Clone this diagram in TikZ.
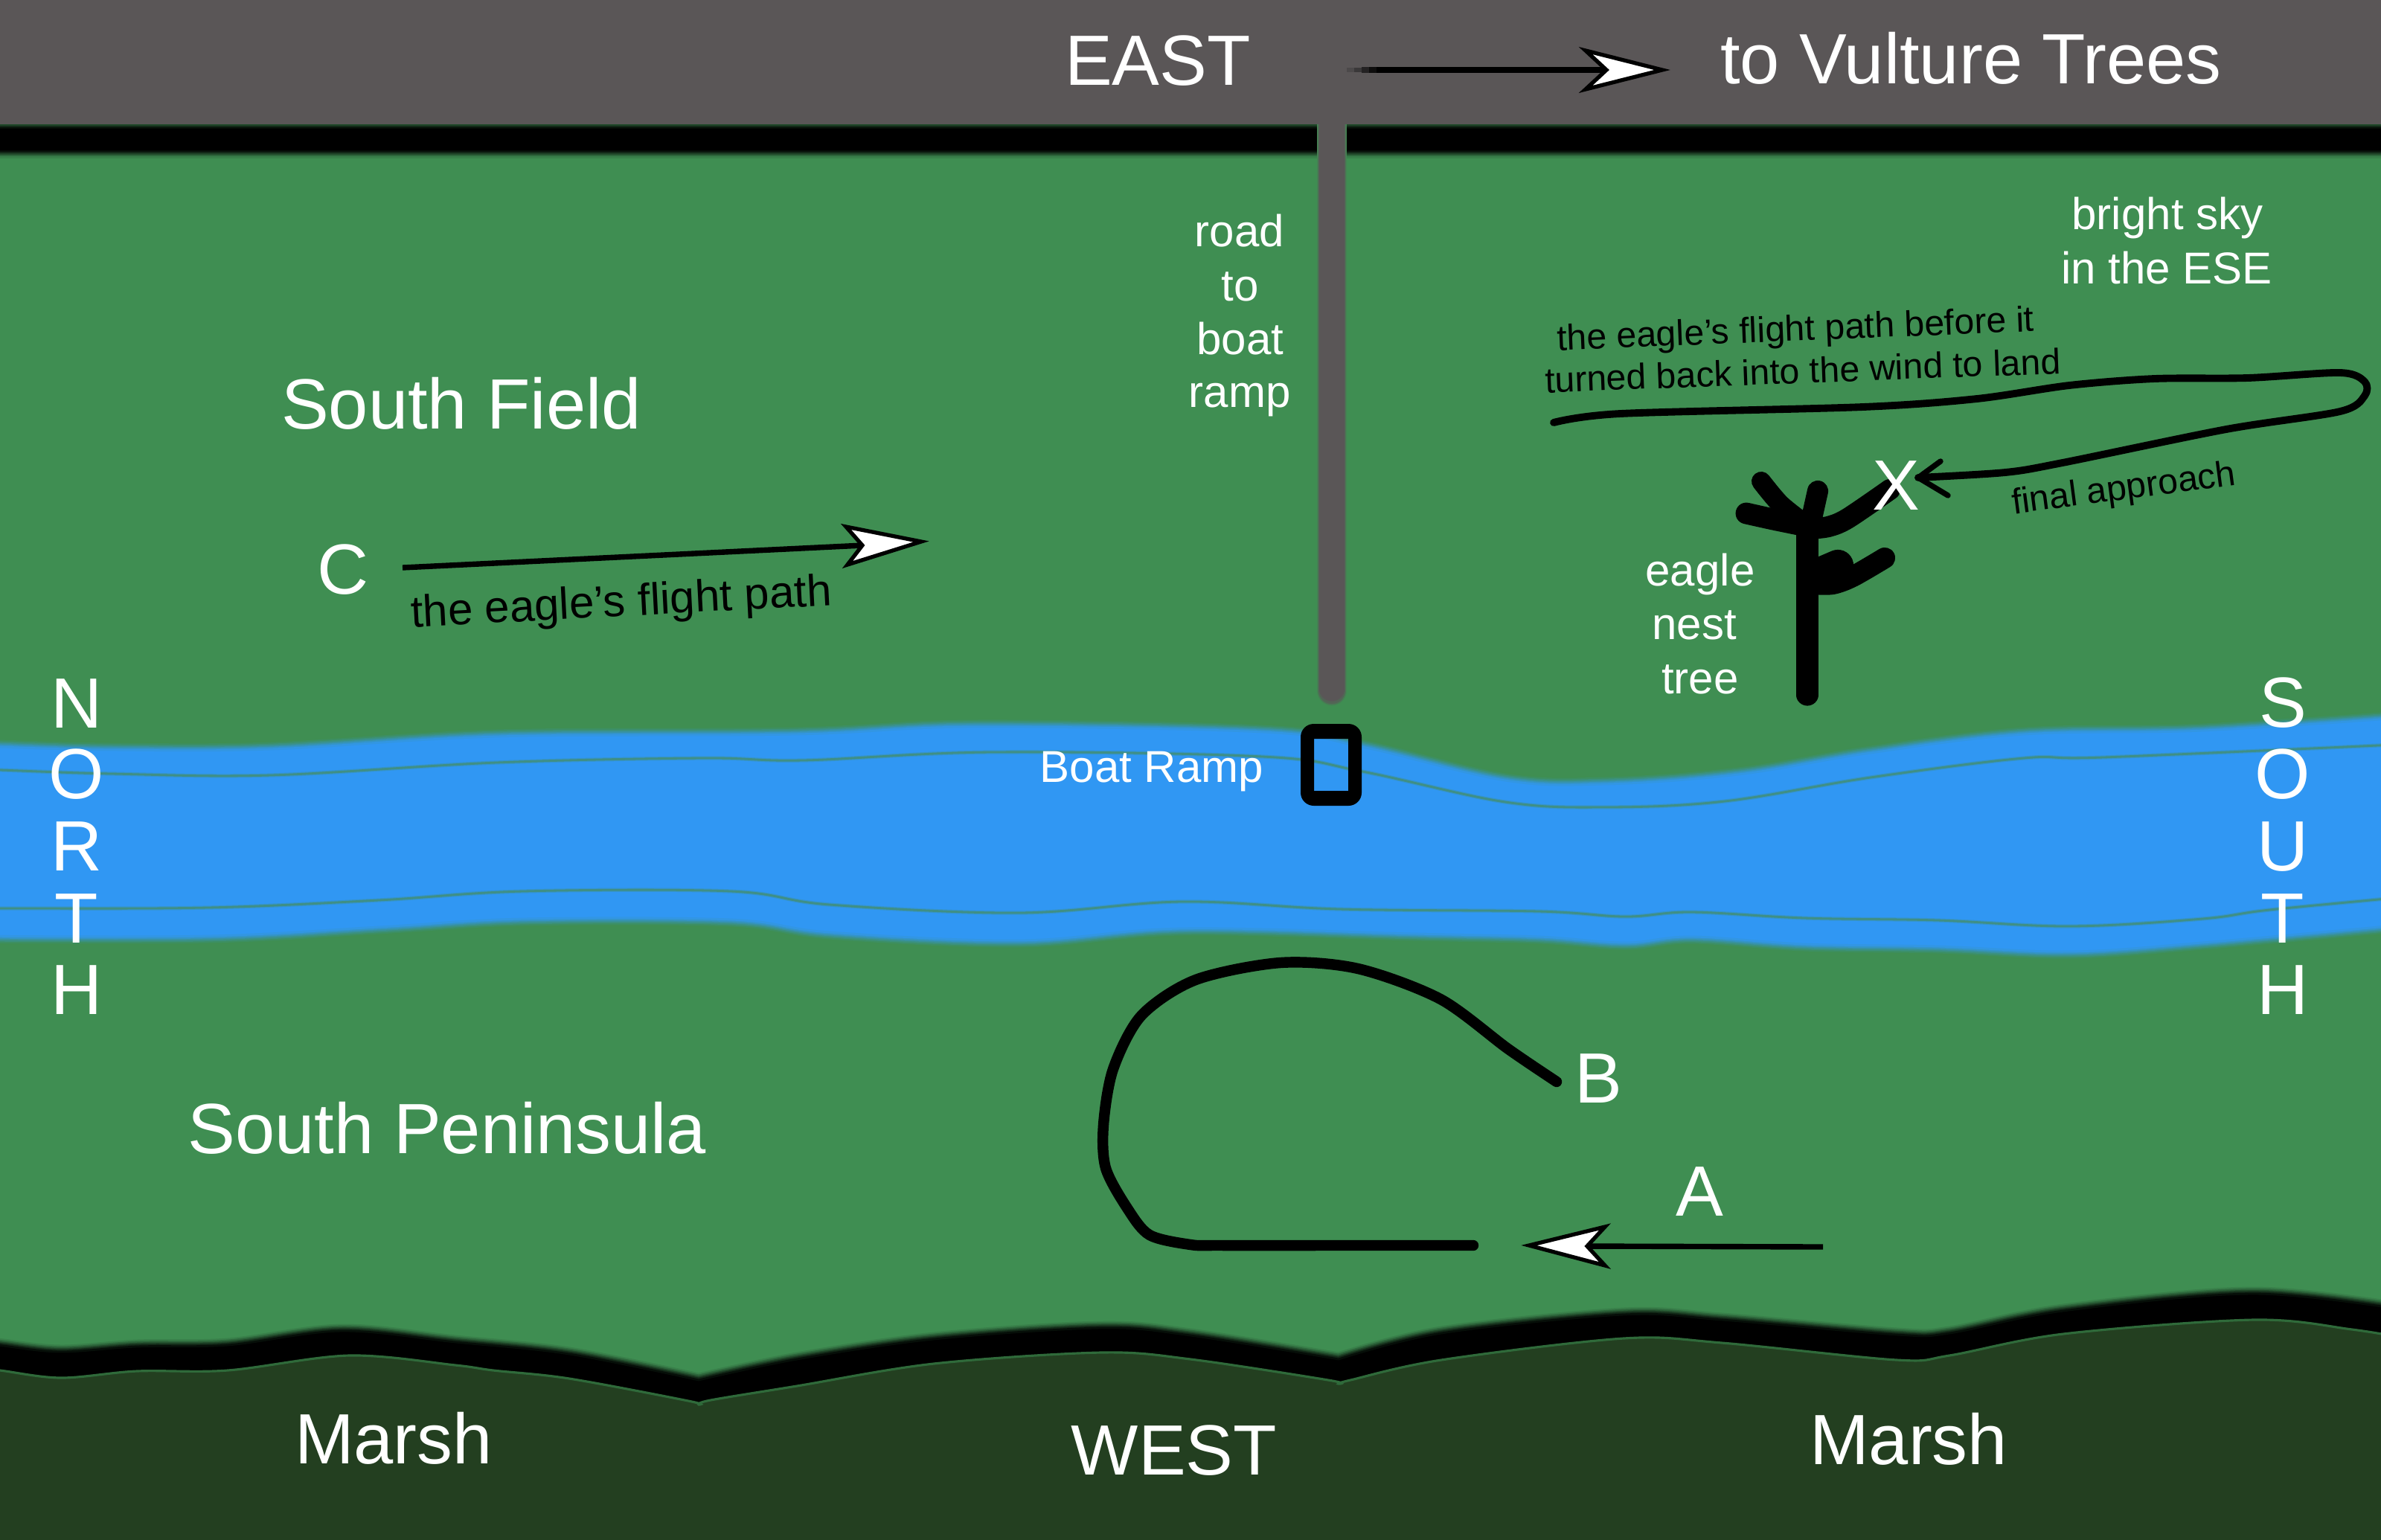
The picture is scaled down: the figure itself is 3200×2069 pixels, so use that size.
\documentclass[tikz,border=0pt]{standalone}
\usepackage{fontspec}
\setmainfont{Liberation Sans}
\definecolor{fieldgreen}{HTML}{3F8E52}
\definecolor{marshgreen}{HTML}{233F20}
\definecolor{riverblue}{HTML}{3097F3}
\definecolor{roofgrey}{HTML}{5A5657}
\definecolor{riverline}{HTML}{3F8F85}
\definecolor{marshline}{HTML}{2F6A3A}
\tikzset{
  lbl/.style={inner sep=0pt,outer sep=0pt,anchor=base,text=white},
  bigtxt/.style={lbl,font=\fontsize{27.2}{27.2}\selectfont},
  midtxt/.style={lbl,font=\fontsize{17.07}{17.07}\selectfont},
  blacktxt/.style={inner sep=0pt,outer sep=0pt,anchor=base west,text=black},
  lgblack/.style={blacktxt,font=\fontsize{17.07}{17.07}\selectfont},
  smblack/.style={blacktxt,font=\fontsize{13.7}{13.7}\selectfont},
  pen/.style={draw=black,line cap=round,line join=round},
  headwhite/.style={draw=black,fill=white,line width=1.5pt,line join=miter},
  shaft/.style={draw=black,line width=2.1pt,line cap=butt},
}
\newcommand{\blurred}[3]{%
  \path[draw=#2!10!#3,line width=5.4pt,line join=round] #1;
  \path[draw=#2!28!#3,line width=4.2pt,line join=round] #1;
  \path[draw=#2!50!#3,line width=3.0pt,line join=round] #1;
  \path[draw=#2!72!#3,line width=1.9pt,line join=round] #1;
  \path[draw=#2!90!#3,fill=#2,line width=.8pt,line join=round] #1;
}
\def\riverouter{plot[smooth,tension=.6] coordinates {(-40,1002)(0,1004)(150,1008)(364,1007)(667,990)(1067,987)(1309,977)(1697,984)(1831,1004)(2023,1049)(2157,1054)(2336,1041)(2514,1012)(2720,987)(2960,982)(3240,964)}
  -- plot[smooth,tension=.6] coordinates {(3240,1242)(2960,1267)(2782,1279)(2604,1272)(2425,1269)(2273,1259)(2184,1267)(2068,1259)(1900,1255)(1588,1248)(1370,1264)(1115,1253)(982,1236)(703,1235)(509,1246)(279,1258)(-40,1258)} -- cycle}
\def\bandouter{plot[smooth,tension=.55] coordinates {(-40,1802)(5,1809)(82,1817)(184,1810)(306,1808)(459,1789)(612,1804)(765,1820)(939,1855)} -- plot[smooth,tension=.55] coordinates {(939,1855)(1071,1827)(1255,1800)(1480,1785)(1600,1795)(1799,1827)} -- plot[smooth,tension=.55] coordinates {(1799,1827)(1937,1792)(2182,1767)(2314,1774)(2549,1794)(2620,1792)(2773,1762)(3029,1739)(3240,1762)} -- (3240,1950) -- (-40,1950) -- cycle}
\def\marshtop{plot[smooth,tension=.55] coordinates {(-40,1838)(0,1842)(82,1852)(184,1843)(306,1842)(469,1822)(612,1835)(663,1842)(765,1853)(925,1883)(939,1888)} -- plot[smooth,tension=.55] coordinates {(939,1888)(955,1882)(1071,1863)(1255,1833)(1480,1818)(1600,1827)(1785,1855)(1799,1860)} -- plot[smooth,tension=.55] coordinates {(1799,1860)(1815,1855)(1937,1828)(2182,1799)(2314,1805)(2549,1828)(2620,1822)(2773,1793)(3029,1774)(3161,1787)(3240,1800)}}
\begin{document}
\begin{tikzpicture}[x=0.01cm,y=-0.01cm]
\useasboundingbox (0,0) rectangle (3200,2069);
\clip (0,0) rectangle (3200,2069);
% ground
\fill[fieldgreen] (0,0) rectangle (3200,2069);
% top black line
\blurred{(-40,172) rectangle (3240,203)}{black}{fieldgreen}
% road
\draw[fieldgreen!82!roofgrey,line width=11.6pt,line cap=round] (1790,150) -- (1790,928);
\draw[fieldgreen!55!roofgrey,line width=11pt,line cap=round] (1790,150) -- (1790,928);
\draw[fieldgreen!25!roofgrey,line width=10.2pt,line cap=round] (1790,150) -- (1790,928);
\draw[roofgrey,line width=9.4pt,line cap=round] (1790,150) -- (1790,926);
% grey top
\fill[roofgrey] (0,0) rectangle (3200,167);
% river
\blurred{\riverouter}{riverblue}{fieldgreen}
\draw[riverline!35!riverblue,line width=1.5pt] plot[smooth,tension=.6] coordinates {(-40,1034)(0,1035)(150,1040)(364,1042)(667,1025)(945,1019)(1079,1022)(1333,1011)(1697,1017)(1831,1037)(2023,1078)(2157,1085)(2318,1077)(2514,1045)(2720,1019)(2827,1018)(3240,1000)};
\draw[riverline,line width=.8pt] plot[smooth,tension=.6] coordinates {(-40,1034)(0,1035)(150,1040)(364,1042)(667,1025)(945,1019)(1079,1022)(1333,1011)(1697,1017)(1831,1037)(2023,1078)(2157,1085)(2318,1077)(2514,1045)(2720,1019)(2827,1018)(3240,1000)};
\draw[riverline!35!riverblue,line width=1.5pt] plot[smooth,tension=.6] coordinates {(-40,1221)(6,1221)(279,1220)(509,1210)(703,1198)(982,1198)(1115,1216)(1370,1227)(1588,1212)(1800,1222)(2068,1225)(2184,1232)(2273,1226)(2425,1234)(2604,1237)(2782,1245)(2960,1235)(3050,1223)(3240,1205)};
\draw[riverline,line width=.8pt] plot[smooth,tension=.6] coordinates {(-40,1221)(6,1221)(279,1220)(509,1210)(703,1198)(982,1198)(1115,1216)(1370,1227)(1588,1212)(1800,1222)(2068,1225)(2184,1232)(2273,1226)(2425,1234)(2604,1237)(2782,1245)(2960,1235)(3050,1223)(3240,1205)};
% boat ramp
\fill[black,even odd rule,rounded corners=5] (1748,973) rectangle (1830,1083) [sharp corners] (1766,993) rectangle (1812,1063);
% marsh
\blurred{\bandouter}{black}{fieldgreen}
\fill[marshgreen] \marshtop -- (3240,2100) -- (-40,2100) -- cycle;
\draw[marshline,line width=.9pt] \marshtop;
% tree
\draw[pen,line width=8.3pt] (2429,713) -- (2429,934);
\draw[pen,line width=7.4pt] plot[smooth] coordinates {(2367,647)(2393,678)(2427,705)};
\draw[pen,line width=8.2pt] plot[smooth] coordinates {(2347,690)(2383,698)(2427,707)};
\draw[pen,line width=8pt] (2443,660) -- (2433,705);
\draw[pen,line width=8pt] plot[smooth] coordinates {(2430,711)(2457,708)(2483,697)(2540,658)};
\draw[pen,line width=8pt] plot[smooth] coordinates {(2533,750)(2490,775)(2463,785)(2437,785)};
\draw[pen,line width=12pt] (2470,760) -- (2442,772);
% flight loop at bottom
\draw[pen,line width=4.1pt] plot[smooth,tension=.5] coordinates {(1980,1674)(1800,1674)(1640,1674)(1600,1673)(1545,1660)(1515,1624)(1486,1570)(1483,1512)(1496,1437)(1534,1365)(1607,1317)(1721,1294)(1825,1302)(1936,1343)(2027,1410)(2092,1454)};
% flight path before landing
\draw[pen,line width=2.8pt] plot[smooth,tension=.5] coordinates {(2088,568)(2178,556)(2504,547)(2657,536)(2781,518)(2896,509)(3021,508)(3145,501)(3178,513)(3178,532)(3145,553)(2992,577)(2772,622)(2695,635)(2578,642)};
\draw[pen,line width=2.1pt] (2608,620) -- (2578,642) -- (2618,666);
% arrows
\draw[roofgrey!85!black,line width=1.7pt] (1810,94) -- (1820,94);
\draw[roofgrey!65!black,line width=1.9pt] (1820,94) -- (1830,94);
\draw[roofgrey!40!black,line width=2pt] (1830,94) -- (1840,94);
\draw[roofgrey!15!black,line width=2pt] (1840,94) -- (1850,94);
\draw[shaft] (1850,94) -- (2165,94);
\filldraw[headwhite] (2234,94) -- (2131,68) -- (2159,94) -- (2131,120) -- cycle;
\draw[shaft] (541,763) -- (1160,733);
\filldraw[headwhite] (1238,728) -- (1137,708) -- (1159,733) -- (1139,759) -- cycle;
\draw[shaft] (2450,1676) -- (2130,1675);
\filldraw[headwhite] (2055,1674) -- (2157,1649) -- (2133,1675) -- (2157,1701) -- cycle;
% big white labels
\node[bigtxt] (east) at (1556,114) {EAST};
\node[bigtxt] (vulture) at (2649,112) {to Vulture Trees};
\node[bigtxt] (west) at (1578,1982) {WEST};
\node[bigtxt] (marshl) at (529,1967) {Marsh};
\node[bigtxt] (marshr) at (2565,1968) {Marsh};
\node[bigtxt] (field) at (620,576) {South Field};
\node[bigtxt] (peninsula) at (601,1550) {South Peninsula};
\node[bigtxt] (c) at (461,798) {C};
\node[bigtxt] (b) at (2148,1482) {B};
\node[bigtxt] (a) at (2284,1634) {A};
\node[bigtxt] (x) at (2548,685) {X};
\node[bigtxt] (n1) at (103,978) {N};
\node[bigtxt] (n2) at (103,1073) {O};
\node[bigtxt] (n3) at (103,1170) {R};
\node[bigtxt] (n4) at (103,1267) {T};
\node[bigtxt] (n5) at (103,1363) {H};
\node[bigtxt] (s1) at (3068,977) {S};
\node[bigtxt] (s2) at (3068,1073) {O};
\node[bigtxt] (s3) at (3068,1170) {U};
\node[bigtxt] (s4) at (3068,1267) {T};
\node[bigtxt] (s5) at (3068,1363) {H};
% medium white labels
\node[midtxt] (r1) at (1666,331) {road};
\node[midtxt] (r2) at (1667,404) {to};
\node[midtxt] (r3) at (1667,476) {boat};
\node[midtxt] (r4) at (1666,547) {ramp};
\node[midtxt] (sky1) at (2913,308) {bright sky};
\node[midtxt] (sky2) at (2912,381) {in the ESE};
\node[midtxt] (t1) at (2285,787) {eagle};
\node[midtxt] (t2) at (2277,859) {nest};
\node[midtxt] (t3) at (2285,932) {tree};
\node[midtxt] (ramp) at (1548,1051) {Boat Ramp};
% black rotated labels
\node[lgblack,rotate=3.0] (fp) at (553,843) {the eagle’s flight path};
\node[smblack,rotate=2.3] (fp1) at (2093,471) {the eagle’s flight path before it};
\node[smblack,rotate=2.15] (fp2) at (2077,528) {turned back into the wind to land};
\node[smblack,rotate=7.5] (fin) at (2706,691) {final approach};
\end{tikzpicture}
\end{document}
